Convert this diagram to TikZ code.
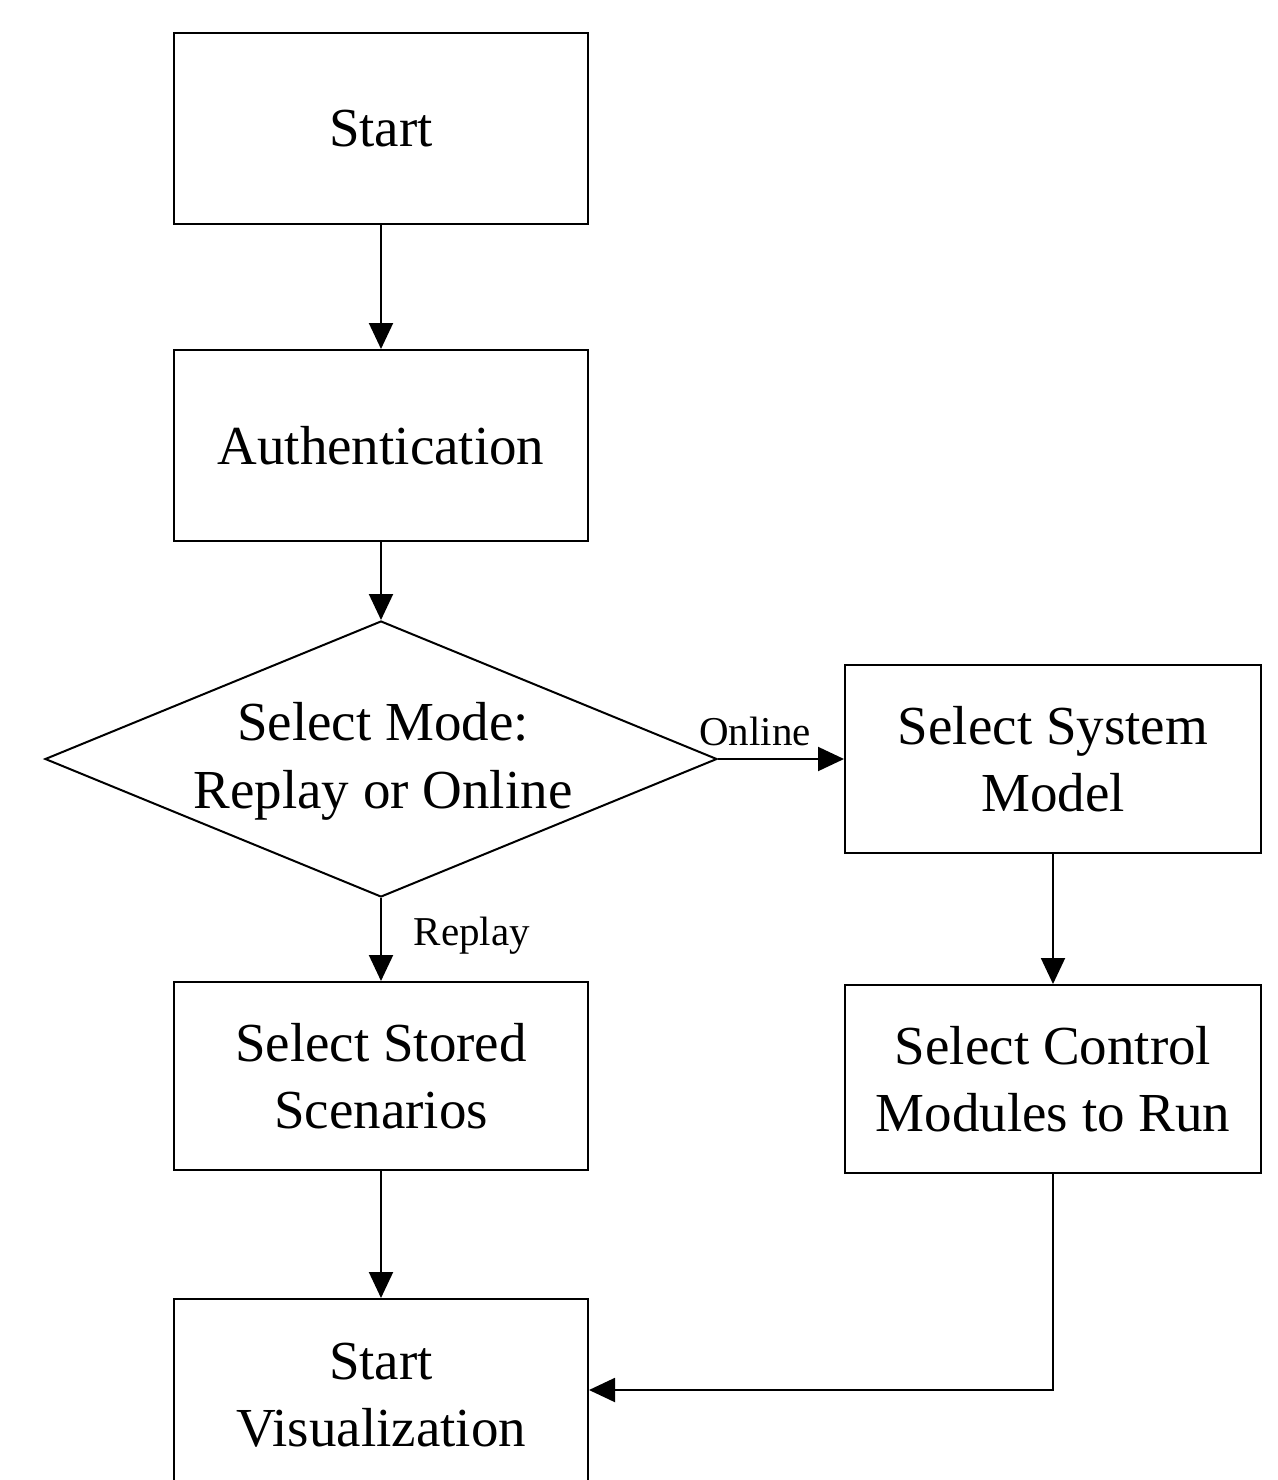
\documentclass[tikz,border=0pt]{standalone}
\usepackage{fontspec}
\setmainfont{Liberation Serif}
\usetikzlibrary{arrows.meta,shapes.geometric}
\begin{document}
\begin{tikzpicture}[x=1pt,y=-1pt,
  box/.style={draw,line width=2pt,inner sep=0pt,align=center,font=\fontsize{55}{67}\selectfont},
  lbl/.style={inner sep=0pt,font=\fontsize{41}{48}\selectfont},
  arr/.style={line width=2pt,-{Triangle[length=26pt,width=24pt]}}]
\clip (0,0) rectangle (1277,1480);
\fill[white] (0,0) rectangle (1277,1480);
\node[box,minimum width=414pt,minimum height=191pt] (start) at (381,128.5) {Start};
\node[box,minimum width=414pt,minimum height=191pt] (auth) at (381,445.5) {Authentication};
\node[diamond,draw,line width=2pt,inner sep=0pt,minimum width=672pt,minimum height=276pt] (mode) at (381,759) {};
\node[inner sep=0pt,align=center,font=\fontsize{55}{68}\selectfont] (modetxt) at (383,761) {Select Mode:\\Replay or Online};
\node[box,minimum width=416pt,minimum height=188pt] (sysm) at (1053,759) {Select System\\Model};
\node[box,minimum width=414pt,minimum height=188pt] (stored) at (381,1076) {Select Stored\\Scenarios};
\node[box,minimum width=416pt,minimum height=188pt] (ctrl) at (1053,1079) {Select Control\\Modules to Run};
\node[box,minimum width=414pt,minimum height=192pt] (vis) at (381,1395) {Start\\Visualization};
\draw[arr] (start.south) -- (auth.north);
\draw[arr] (auth.south) -- (mode.north);
\draw[arr] (mode.east) -- (sysm.west);
\draw[arr] (mode.south) -- (stored.north);
\draw[arr] (stored.south) -- (vis.north);
\draw[arr] (sysm.south) -- (ctrl.north);
\draw[arr] (ctrl.south) |- ([yshift=5pt]vis.east);
\node[lbl] (online) at (755,731) {Online};
\node[lbl] (replay) at (472,936) {Replay};
\end{tikzpicture}
\end{document}
